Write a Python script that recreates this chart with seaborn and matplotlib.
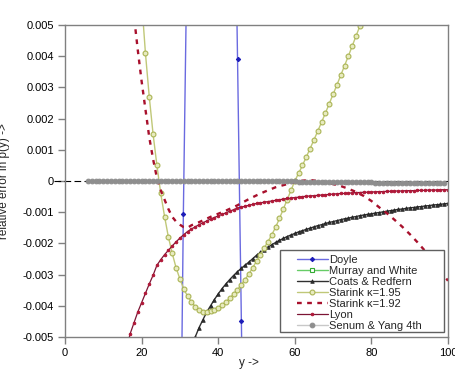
import matplotlib
matplotlib.use("Agg")
import matplotlib.pyplot as plt
import seaborn as sns
import pandas as pd
from matplotlib.patches import Rectangle

# ---------------- data ----------------
x_ticks = [0, 20, 40, 60, 80, 100]
x_tick_labels = ["0", "20", "40", "60", "80", "100"]
y_ticks = [0.005, 0.004, 0.003, 0.002, 0.001, 0.0, -0.001, -0.002, -0.003, -0.004, -0.005]
y_tick_labels = ["0.005", "0.004", "0.003", "0.002", "0.001", "0",
                 "-0.001", "-0.002", "-0.003", "-0.004", "-0.005"]

doyle_x = [23.0, 30.9, 38.0, 45.05, 46.05, 52.0]
doyle_y = [-0.09, -0.00106, 0.061, 0.0039, -0.0045, -0.055]

murray_x = [10, 20, 30, 40, 50, 60, 70, 80, 90, 100]
murray_y = [-0.06, -0.03, -0.02, -0.015, -0.012, -0.010, -0.009, -0.008, -0.0075, -0.007]

coats_x = list(range(33, 101))
coats_y = [-0.0053, -0.0050, -0.0047, -0.00445, -0.0042, -0.0040, -0.0038, -0.00362,
           -0.00345, -0.0033, -0.00316, -0.00303, -0.00291, -0.0028, -0.0027, -0.0026,
           -0.00249, -0.00238, -0.00229, -0.0022, -0.00212, -0.00204, -0.00197, -0.0019,
           -0.00184, -0.00178, -0.00173, -0.00168, -0.00163, -0.00159, -0.00155, -0.00151,
           -0.00147, -0.00143, -0.0014, -0.00136, -0.00133, -0.0013, -0.00127, -0.00124,
           -0.00121, -0.00119, -0.00116, -0.00114, -0.00111, -0.00109, -0.00107, -0.00105,
           -0.00103, -0.00101, -0.00099, -0.00097, -0.00095, -0.00093, -0.00091, -0.0009,
           -0.00088, -0.00086, -0.00085, -0.00083, -0.00082, -0.0008, -0.00079, -0.00077,
           -0.00076, -0.00075, -0.00073, -0.00072]

starink195_x = list(range(19, 81))
starink195_y = [0.0078, 0.0058, 0.0041, 0.0027, 0.0015, 0.0005, -0.0004, -0.00114,
                -0.0018, -0.00232, -0.00278, -0.00314, -0.00346, -0.00369, -0.00387,
                -0.00403, -0.00413, -0.00419, -0.0042, -0.00418, -0.00413, -0.00406,
                -0.00398, -0.00388, -0.00376, -0.00363, -0.00349, -0.00333, -0.00316,
                -0.00298, -0.00278, -0.00257, -0.00236, -0.00215, -0.00194, -0.00172,
                -0.00148, -0.0012, -0.0009, -0.0006, -0.0003, 0.0, 0.00025, 0.0005,
                0.00077, 0.00104, 0.00132, 0.0016, 0.00189, 0.00218, 0.00248, 0.00278,
                0.00308, 0.00339, 0.0037, 0.00401, 0.00433, 0.00465, 0.00497, 0.0053,
                0.0056, 0.006]

starink192_x = [17, 18, 19, 20, 21, 22, 23, 24, 25, 26, 27, 28, 29, 30, 31, 32, 33, 35,
                38, 40, 42, 45, 48, 50, 52, 55, 58, 60, 62, 64, 66, 68, 70, 72, 74, 76,
                78, 80, 82, 84, 86, 88, 90, 92, 94, 96, 98, 100]
starink192_y = [0.0065, 0.0053, 0.0042, 0.0032, 0.0023, 0.0014, 0.0007, 0.0001, -0.0003,
                -0.0006, -0.0009, -0.00115, -0.0013, -0.0014, -0.00148, -0.0015, -0.00142,
                -0.00132, -0.00115, -0.00105, -0.00095, -0.00078, -0.00058, -0.00046,
                -0.00035, -0.0002, -0.0001, -0.00004, 0.00001, 0.00003, 0.0, -0.00004,
                -0.0001, -0.00016, -0.00025, -0.00035, -0.00048, -0.00064, -0.00084,
                -0.00103, -0.00124, -0.00146, -0.0017, -0.00196, -0.00224, -0.00254,
                -0.00286, -0.0032]

lyon_x = list(range(16, 101))
lyon_y = [-0.0054, -0.0049, -0.00455, -0.0042, -0.0039, -0.0036, -0.0033, -0.00302,
          -0.0027, -0.00252, -0.00236, -0.00222, -0.00208, -0.00195, -0.00183, -0.00172,
          -0.00162, -0.00154, -0.00147, -0.0014, -0.00134, -0.00128, -0.00122, -0.00117,
          -0.00112, -0.00107, -0.00102, -0.00097, -0.00092, -0.00087, -0.00084, -0.00081,
          -0.00078, -0.00075, -0.00072, -0.0007, -0.00068, -0.00066, -0.00064, -0.00062,
          -0.0006, -0.00058, -0.00056, -0.00055, -0.00053, -0.00052, -0.0005, -0.00049,
          -0.00048, -0.00047, -0.00046, -0.00045, -0.00044, -0.00043, -0.00042, -0.00041,
          -0.0004, -0.0004, -0.00039, -0.00038, -0.00037, -0.00037, -0.00036, -0.00036,
          -0.00035, -0.00035, -0.00034, -0.00034, -0.00033, -0.00033, -0.00032, -0.00032,
          -0.00032, -0.00031, -0.00031, -0.00031, -0.0003, -0.0003, -0.0003, -0.00029,
          -0.00029, -0.00029, -0.00028, -0.00028, -0.00028]

senum_x = list(range(6, 100))
senum_y = [0.0, 0.0, 0.0, 0.0, 0.0, 0.0, 0.0, 0.0, 0.0, 0.0,
           0.0, 0.0, 0.0, 0.0, 0.0, 0.0, 0.0, 0.0, 0.0, 0.0,
           0.0, 0.0, 0.0, 0.0, 0.0, 0.0, 0.0, 0.0, 0.0, 0.0,
           0.0, 0.0, 0.0, 0.0, 0.0, 0.0, 0.0, 0.0, 0.0, 0.0,
           0.0, 0.0, 0.0, 0.0, 0.0, -0.00001, -0.00001, -0.00001, -0.00001, -0.00001,
           -0.00001, -0.00001, -0.00001, -0.00001, -0.00001, -0.00002, -0.00002, -0.00002,
           -0.00002, -0.00002, -0.00002, -0.00002, -0.00002, -0.00002, -0.00002, -0.00003,
           -0.00003, -0.00003, -0.00003, -0.00003, -0.00003, -0.00003, -0.00003, -0.00003,
           -0.00003, -0.00005, -0.00005, -0.00005, -0.00005, -0.00005, -0.00005, -0.00005,
           -0.00005, -0.00005, -0.00005, -0.00007, -0.00007, -0.00007, -0.00007, -0.00007,
           -0.00007, -0.00007, -0.00007, -0.00008]

series_names = ["Doyle", "Murray and White", "Coats & Redfern", "Starink \u03ba=1.95",
                "Starink \u03ba=1.92", "Lyon", "Senum & Yang 4th"]

# ---------------- style ----------------
sns.set_theme(style="white")
plt.rcParams['font.family'] = ['Liberation Sans', 'DejaVu Sans']

fig = plt.figure(figsize=(4.55, 3.73), dpi=100)
ax = fig.add_axes([65 / 455, 36 / 373, 383 / 455, 312 / 373])

# zero dashed line (extends past the left axis)
ax.plot([-0.028, 1.0], [0, 0], transform=ax.get_yaxis_transform(), color="black",
        lw=0.8, dashes=(6, 3), clip_on=False, zorder=1.5)

styles = [
    dict(color="#6a6ae0", lw=1.0, marker="D", markersize=2.2,
         markerfacecolor="#1c1cb8", markeredgecolor="#1c1cb8"),
    dict(color="#66cc66", lw=1.0, marker="s", markersize=3.5,
         markerfacecolor="white", markeredgecolor="#33aa33", markeredgewidth=0.8),
    dict(color="#303030", lw=1.0, marker="^", markersize=2.6,
         markerfacecolor="#303030", markeredgecolor="#202020", markeredgewidth=0.5),
    dict(color="#c0c878", lw=1.0, marker="o", markersize=3.5,
         markerfacecolor="#e8ebc0", markeredgecolor="#aab454", markeredgewidth=0.8),
    dict(color="#a8102c", lw=1.7, dashes=(2, 2.3)),
    dict(color="#7c1434", lw=0.9, marker="o", markersize=1.8,
         markerfacecolor="#b01838", markeredgecolor="#b01838"),
    dict(color="#c8c8c8", lw=1.0, marker="o", markersize=3.4,
         markerfacecolor="#8e8e8e", markeredgecolor="#8e8e8e"),
]
data = [(doyle_x, doyle_y), (murray_x, murray_y), (coats_x, coats_y),
        (starink195_x, starink195_y), (starink192_x, starink192_y),
        (lyon_x, lyon_y), (senum_x, senum_y)]

for name, (xs, ys), st in zip(series_names, data, styles):
    df = pd.DataFrame({"y": xs, "err": ys})
    sns.lineplot(data=df, x="y", y="err", ax=ax, label=name, sort=False,
                 estimator=None, **st)

ax.set_xlim(0, 100)
ax.set_ylim(-0.005, 0.005)
ax.set_xticks(x_ticks)
ax.set_xticklabels(x_tick_labels)
ax.set_yticks(y_ticks)
ax.set_yticklabels(y_tick_labels)
ax.tick_params(axis="both", which="both", direction="out", length=5, width=1,
               color="#808080", labelsize=8, labelcolor="black", pad=3,
               left=True, bottom=True)

for sp in ax.spines.values():
    sp.set_color("#808080")
    sp.set_linewidth(1.0)
    sp.set_visible(True)

ax.set_xlabel("y ->", fontsize=8.5)
ax.xaxis.set_label_coords(0.48, -0.083)
ax.xaxis.label.set_va("center")
ax.set_ylabel("relative error in p(y) ->", fontsize=8.5)
ax.yaxis.set_label_coords(-0.158, 0.5)
ax.yaxis.label.set_va("center")

# legend frame and legend
ax.add_patch(Rectangle((0.561, 0.016), 0.429, 0.263, transform=ax.transAxes,
                       facecolor="white", edgecolor="#606060", lw=1.0, zorder=4.5))
leg = ax.legend(loc="upper left", bbox_to_anchor=(0.605, 0.264), frameon=False,
                fontsize=8, handlelength=2.8, handletextpad=0.15, labelspacing=0.1,
                borderpad=0.0, borderaxespad=0.0)
leg.set_zorder(5)

fig.savefig("out.png", dpi=100)
